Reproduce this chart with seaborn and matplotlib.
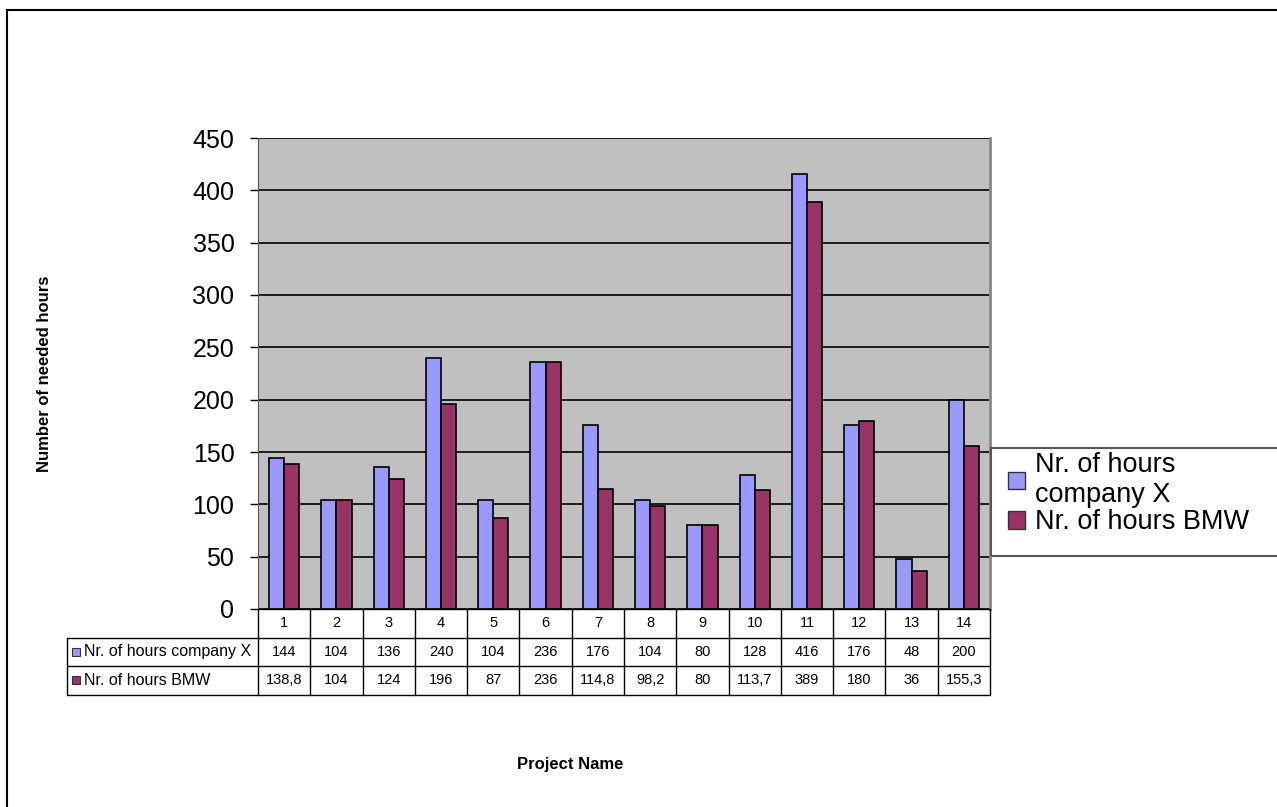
import pandas as pd
import matplotlib.pyplot as plt
import seaborn as sns
from matplotlib.patches import Rectangle

projects = [str(i) for i in range(1, 15)]
hours_x = [144, 104, 136, 240, 104, 236, 176, 104, 80, 128, 416, 176, 48, 200]
hours_bmw = [138.8, 104, 124, 196, 87, 236, 114.8, 98.2, 80, 113.7, 389, 180, 36, 155.3]
series_names = ['Nr. of hours company X', 'Nr. of hours BMW']
colors = ['#9999FF', '#993366']

df = pd.DataFrame({'Project': projects * 2,
                   'Hours': hours_x + hours_bmw,
                   'Series': [series_names[0]] * 14 + [series_names[1]] * 14})

sns.set_style('white')
plt.rcParams['font.family'] = ['Liberation Sans', 'DejaVu Sans']
plt.rcParams['text.color'] = 'black'
plt.rcParams['ytick.color'] = 'black'
plt.rcParams['ytick.labelcolor'] = 'black'

W, H = 1277, 807
fig = plt.figure(figsize=(W / 100, H / 100), dpi=100)
# plot area in pixels: x 258-990, y 138-609
L, R, T, B = 258, 990, 138, 609
ax = fig.add_axes([L / W, 1 - B / H, (R - L) / W, (B - T) / H])

sns.barplot(data=df, x='Project', y='Hours', hue='Series', palette=colors,
            saturation=1, width=0.58, edgecolor='black', linewidth=1.2, ax=ax,
            legend=False)

ax.set_facecolor('#C0C0C0')
ax.set_ylim(0, 450)
ax.set_xlim(-0.5, 13.5)
ax.set_yticks(range(0, 451, 50))
ax.yaxis.grid(True, color='black', linewidth=1.2)
ax.set_axisbelow(True)
ax.tick_params(axis='y', labelsize=18, length=6, width=1, left=True, pad=11,
               colors='black')
ax.set_xticks([])
ax.set_xlabel('')
ax.set_ylabel('')
for s in ['top', 'bottom']:
    ax.spines[s].set_visible(False)
ax.spines['left'].set_color('#555555')
ax.spines['right'].set_color('#888888')
ax.spines['right'].set_linewidth(2)

# data table below the plot
lab_x0 = 67
row_h = 28.5
cell_w = (R - L) / 14
rows = [projects,
        [str(v) for v in hours_x],
        [str(v).replace('.', ',') for v in hours_bmw]]
labels = ['', series_names[0], series_names[1]]
for r, (lab, vals) in enumerate(zip(labels, rows)):
    y_top = B + r * row_h
    yc = 1 - (y_top + row_h / 2) / H
    for c, v in enumerate(vals):
        xc = (L + (c + 0.5) * cell_w) / W
        fig.text(xc, yc, v, ha='center', va='center', fontsize=10.5)
    if lab:
        fig.text((lab_x0 + 17) / W, yc, lab, ha='left', va='center', fontsize=11.5)
        fig.patches.append(Rectangle(((lab_x0 + 5) / W, yc - 4 / H), 8 / W, 8 / H,
                                     transform=fig.transFigure, facecolor=colors[r - 1],
                                     edgecolor='#333333', linewidth=0.8))

def hline(x0, x1, y):
    fig.add_artist(plt.Line2D([x0 / W, x1 / W], [1 - y / H, 1 - y / H], color='black', linewidth=1))

def vline(x, y0, y1):
    fig.add_artist(plt.Line2D([x / W, x / W], [1 - y0 / H, 1 - y1 / H], color='black', linewidth=1))

hline(L, R, B)
hline(lab_x0, R, B + row_h)
hline(lab_x0, R, B + 2 * row_h)
hline(lab_x0, R, B + 3 * row_h)
vline(lab_x0, B + row_h, B + 3 * row_h)
for c in range(15):
    vline(L + c * cell_w, B, B + 3 * row_h)

# legend (frame runs off the right edge like the original)
fig.patches.append(Rectangle((991 / W, 1 - 556 / H), 0.3, 108 / H, transform=fig.transFigure,
                             fill=False, edgecolor='#555555', linewidth=1.5))
handles = [Rectangle((0, 0), 1, 1, facecolor=colors[0], edgecolor='#333333'),
           Rectangle((0, 0), 1, 1, facecolor=colors[1], edgecolor='#333333')]
leg = fig.legend(handles, ['Nr. of hours\ncompany X', 'Nr. of hours BMW'],
                 loc='upper left', bbox_to_anchor=(1008 / W, 1 - 452 / H),
                 fontsize=19.5, frameon=False, handlelength=0.63,
                 handleheight=0.63, handletextpad=0.37, borderpad=0,
                 labelspacing=0.05, borderaxespad=0)

fig.text(45 / W, 1 - 374 / H, 'Number of needed hours', rotation=90, ha='center',
         va='center', fontsize=12, fontweight='bold')
fig.text(570 / W, 1 - 765 / H, 'Project Name', ha='center', va='center',
         fontsize=12, fontweight='bold')

# outer chart border
fig.patches.append(Rectangle((7 / W, -0.1), 1.2, 1 - 10 / H + 0.1, transform=fig.transFigure,
                             fill=False, edgecolor='black', linewidth=1.5))

plt.savefig('out.png', dpi=100)
